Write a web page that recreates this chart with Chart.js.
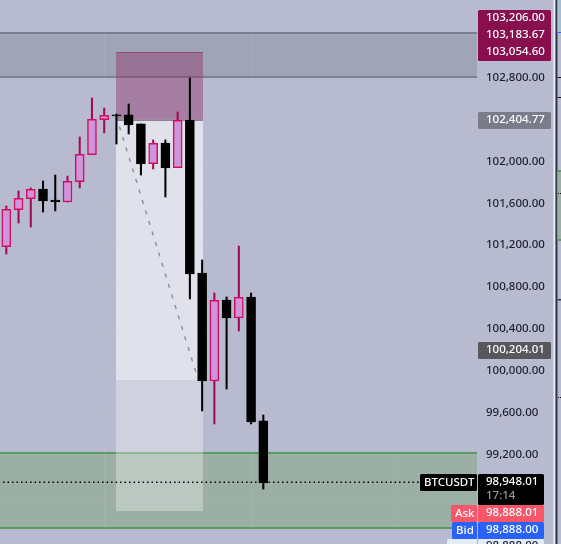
<!DOCTYPE html>
<html>
<head>
<meta charset="utf-8">
<style>
  html, body { margin: 0; padding: 0; background: #b8bbd0; }
  canvas { display: block; }
</style>
<script src="https://cdn.jsdelivr.net/npm/chart.js@4"></script>
</head>
<body>
<canvas id="chart" width="561" height="544"></canvas>
<script>
// candles, oldest first
const opens = [101185, 101538, 101643, 101736, 101631, 101612, 101806, 102064, 102399, 102444, 102444,
  102358, 101978, 102176, 101940, 102396, 100933, 99901, 100675, 100503, 100704, 99519];
const highs = [101574, 101717, 101746, 101813, 101870, 101860, 102233, 102606, 102510, 102453, 102549,
  102358, 102205, 102205, 102472, 102797, 101057, 100742, 100704, 101191, 100742, 99576];
const lows = [101115, 101411, 101373, 101516, 101526, 101612, 101746, 102064, 102272, 102166, 102262,
  101870, 101927, 101660, 101940, 100685, 99614, 99490, 99824, 100379, 99490, 98868];
const closes = [101542, 101647, 101733, 101621, 101612, 101810, 102068, 102402, 102441, 102434, 102348,
  101975, 102173, 101937, 102393, 100924, 99901, 100672, 100503, 100701, 99509, 98926];

const yTicks = [103200, 102800, 102400, 102000, 101600, 101200, 100800, 100400, 100000, 99600, 99200, 98800];
const xGrid = [8, 20, 32];

// supply / demand zones and the position tool, in price
const grayZone = [103227, 102807];
const greenZone = [99212, 98496];
const toolX = [8.94, 16.07];
const toolLevels = [103046, 102396, 99910, 98658];
const tradeLine = [{ x: 8.97, y: 102434 }, { x: 15.66, y: 99920 }];
const lastPrice = 98932;

const FONT = '500 11.5px "Noto Sans"';
const indexes = opens.map((_, i) => i);
const isUp = (i) => closes[i] > opens[i];

const zones = {
  id: "zones",
  beforeDraw(chart) {
    const { ctx, chartArea: area, scales: { x, y } } = chart;
    ctx.fillStyle = "#b8bbd0";
    ctx.fillRect(0, 0, 561, 544);

    const band = (range, fill, line) => {
      const top = Math.round(y.getPixelForValue(range[0]));
      const bottom = Math.round(y.getPixelForValue(range[1]));
      ctx.fillStyle = fill;
      ctx.fillRect(area.left, top, area.right - area.left, bottom - top);
      ctx.fillStyle = line;
      ctx.fillRect(area.left, top - 1, area.right - area.left, 2);
      ctx.fillRect(area.left, bottom - 1, area.right - area.left, 2);
    };
    band(grayZone, "rgba(104,114,125,0.3)", "#7b7e8d");
    band(greenZone, "rgba(126,163,122,0.5)", "#589c5e");

    const left = Math.round(x.getPixelForValue(toolX[0]));
    const width = Math.round(x.getPixelForValue(toolX[1])) - left;
    const fills = ["rgba(144,54,108,0.45)", "rgba(255,255,255,0.56)", "rgba(255,255,255,0.32)"];
    fills.forEach((fill, i) => {
      const top = Math.round(y.getPixelForValue(toolLevels[i]));
      ctx.fillStyle = fill;
      ctx.fillRect(left, top, width, Math.round(y.getPixelForValue(toolLevels[i + 1])) - top);
    });
    ctx.fillStyle = "rgba(144,54,108,0.6)";
    ctx.fillRect(left, Math.round(y.getPixelForValue(toolLevels[0])), width, 1);
    ctx.fillStyle = "rgba(110,110,125,0.8)";
    ctx.fillRect(left, Math.round(y.getPixelForValue(toolLevels[1])), width, 1);
  },
  afterDraw(chart) {
    const { ctx } = chart;
    const box = (x, y, w, h, fill) => {
      ctx.fillStyle = fill;
      ctx.beginPath();
      ctx.roundRect(x, y, w, h, 1.5);
      ctx.fill();
    };
    const text = (str, x, y, color) => {
      ctx.fillStyle = color;
      ctx.fillText(str, x, y);
    };
    ctx.save();
    ctx.font = FONT;
    ctx.textBaseline = "middle";

    box(478, 10, 73, 51, "#890e4e");
    text("103,206.00", 486, 18, "#ffffff");
    text("103,183.67", 486, 35, "#ffffff");
    text("103,054.60", 486, 52, "#ffffff");
    box(478, 112, 73, 17, "#7a7c8a");
    text("102,404.77", 486, 120, "#ffffff");
    box(478, 342, 73, 17, "#58585c");
    text("100,204.01", 486, 350, "#ffffff");

    box(420, 474, 57, 17, "#000000");
    text("BTCUSDT", 424, 483, "#ffffff");
    box(478, 474, 66, 31, "#000000");
    text("98,948.01", 486, 482, "#ffffff");
    text("17:14", 486, 496, "#9a9a9a");

    box(451, 505, 26, 17, "#f9566a");
    text("Ask", 455, 514, "#ffffff");
    box(478, 505, 66, 17, "#f9566a");
    text("98,888.01", 486, 513, "#ffffff");
    box(452, 522, 25, 17, "#2962ff");
    text("Bid", 456, 531, "#ffffff");
    box(478, 522, 66, 17, "#2962ff");
    text("98,888.00", 486, 530, "#ffffff");
    box(447, 539, 30, 8, "#e3ecfa");
    box(478, 539, 66, 8, "#e3ecfa");
    text("98,888.00", 486, 546, "#20242e");

    // neighbouring pane on the right edge
    ctx.fillStyle = "#eef0f6";
    ctx.fillRect(553.5, 0, 1.5, 544);
    ctx.fillStyle = "#343a4e";
    ctx.fillRect(555.5, 0, 2, 544);
    ctx.fillStyle = "#a6bdd6";
    ctx.fillRect(557.5, 0, 4, 32);
    ctx.fillStyle = "#2962ff";
    ctx.fillRect(558, 32, 3, 1);
    ctx.fillStyle = "#9bafa5";
    ctx.fillRect(557.5, 171, 4, 69);
    ctx.fillStyle = "#589c5e";
    ctx.fillRect(557.5, 170, 4, 2);
    ctx.fillRect(557.5, 239, 4, 2);
    ctx.fillStyle = "#111111";
    ctx.fillRect(557.5, 77, 4, 1);
    ctx.fillRect(557.5, 97, 4, 1);
    ctx.fillRect(558, 193, 1, 1);
    ctx.fillRect(560, 193, 1, 1);
    ctx.fillRect(558, 397, 1, 1);
    ctx.fillRect(560, 397, 1, 1);
    ctx.fillStyle = "#343a4e";
    ctx.fillRect(557.5, 299, 4, 1.5);
    ctx.restore();
  },
};

const wickColor = (c) => (isUp(c.dataIndex) ? "#a3085a" : "#000000");

new Chart(document.getElementById("chart"), {
  type: "bar",
  data: {
    datasets: [
      {
        type: "line",
        data: [{ x: -1, y: lastPrice }, { x: 39, y: lastPrice }],
        borderColor: "#000000",
        borderWidth: 1.5,
        borderDash: [1.5, 3],
        pointRadius: 0,
        order: 0,
      },
      {
        data: indexes.map((i) => ({ x: i, y: [opens[i], closes[i]] })),
        barThickness: 9,
        borderSkipped: false,
        borderWidth: 1.5,
        backgroundColor: (c) => (isUp(c.dataIndex) ? "#d094dc" : "#000000"),
        borderColor: (c) => (isUp(c.dataIndex) ? "#d0105f" : "#000000"),
        order: 1,
      },
      {
        data: indexes.map((i) => ({ x: i, y: [lows[i], highs[i]] })),
        barThickness: 1.4,
        backgroundColor: wickColor,
        order: 2,
      },
      {
        type: "line",
        data: tradeLine,
        borderColor: "#8e91a6",
        borderWidth: 1.5,
        borderDash: [4, 7],
        pointRadius: 0,
        order: 3,
      },
    ],
  },
  options: {
    responsive: false,
    animation: false,
    layout: { padding: 0 },
    datasets: { bar: { grouped: false } },
    plugins: { legend: { display: false }, tooltip: { enabled: false } },
    scales: {
      x: {
        type: "linear",
        offset: false,
        min: -0.515,
        max: 38.46,
        afterBuildTicks: (scale) => {
          scale.ticks = xGrid.map((value) => ({ value }));
        },
        afterFit: (scale) => {
          scale.height = 0;
          scale.paddingLeft = 0;
          scale.paddingRight = 0;
        },
        grid: { offset: false, color: "rgba(255,255,255,0.05)", drawTicks: false },
        border: { display: false },
        ticks: { display: false },
      },
      y: {
        position: "right",
        min: 98342.6,
        max: 103542.8,
        afterBuildTicks: (scale) => {
          scale.ticks = yTicks.map((value) => ({ value }));
        },
        afterFit: (scale) => {
          scale.width = 84;
          scale.paddingTop = 0;
          scale.paddingBottom = 0;
        },
        grid: { color: "rgba(255,255,255,0.05)", drawTicks: false },
        border: { display: false },
        ticks: {
          padding: 9,
          color: "#1c202a",
          font: { family: "Noto Sans", size: 11.5, weight: "500" },
          callback: (value) => value.toLocaleString("en-US", { minimumFractionDigits: 2 }),
        },
      },
    },
  },
  plugins: [zones],
});
</script>
</body>
</html>
